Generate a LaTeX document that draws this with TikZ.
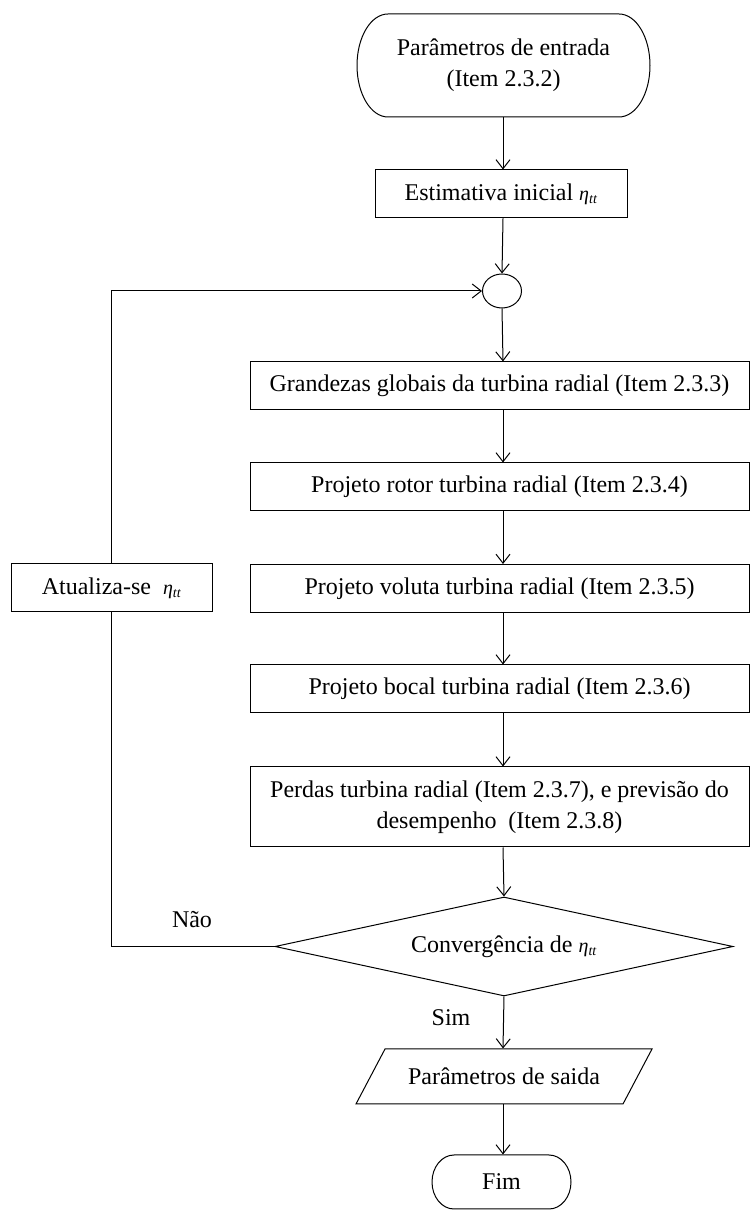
\documentclass[tikz,border=0pt]{standalone}
\usepackage{fontspec}
\setmainfont{Liberation Serif}
\usetikzlibrary{arrows.meta,shapes.geometric,calc}
\newcommand{\etatt}{{\fontsize{20}{20}\selectfont\itshape η\textsubscript{tt}}}
\begin{document}
\begin{tikzpicture}[x=1pt,y=1pt, line width=1pt,
  lbl/.style={font=\fontsize{24}{31}\selectfont, align=center, inner sep=0pt},
  box/.style={lbl, draw, rectangle, minimum height=48pt},
  arr/.style={-{Straight Barb[length=9pt,width=14pt]}}]
\useasboundingbox (0,0) rectangle (750,1211);
\coordinate (ax) at (503,0);

% start terminal
\node[lbl, minimum width=293pt, minimum height=103pt] (start) at (503.5,1145.5) {Parâmetros de entrada\\(Item 2.3.2)};
\draw (388,1197) -- (619,1197) arc[start angle=90,end angle=-90,x radius=31,y radius=51.5]
  -- (388,1094) arc[start angle=270,end angle=90,x radius=31,y radius=51.5] -- cycle;

\node[box, minimum width=252pt] (est) at (501,1017) {Estimativa inicial \etatt};
\node[draw, ellipse, minimum width=39pt, minimum height=34pt, inner sep=0pt] (jn) at (502,920) {};

\node[box, minimum width=499pt] (g) at (499.5,825) {Grandezas globais da turbina radial (Item 2.3.3)};
\node[box, minimum width=499pt] (r) at (499.5,724) {Projeto rotor turbina radial (Item 2.3.4)};
\node[box, minimum width=499pt] (v) at (499.5,622.5) {Projeto voluta turbina radial (Item 2.3.5)};
\node[box, minimum width=499pt] (b) at (499.5,522) {Projeto bocal turbina radial (Item 2.3.6)};
\node[box, minimum width=499pt, minimum height=80pt] (p) at (499.5,404) {Perdas turbina radial (Item 2.3.7), e previsão do\\desempenho~ (Item 2.3.8)};

\node[draw, diamond, minimum width=458pt, minimum height=99pt, inner sep=0pt] (conv) at (504,264.5) {};
\node[lbl] (convt) at (conv) {Convergência de \etatt};

\node[box, minimum width=201pt] (upd) at (111.5,623) {Atualiza-se~ \etatt};

% output parallelogram
\node[lbl, minimum width=267pt, minimum height=55pt] (out) at (504,134.5) {Parâmetros de saida};
\draw (385,162) -- (652,162) -- (623,107) -- (356,107) -- cycle;

% end terminal
\node[lbl, minimum width=139pt, minimum height=54pt] (fim) at (501.5,29) {Fim};
\draw (454,56) -- (549,56) arc[start angle=90,end angle=-90,x radius=22,y radius=27]
  -- (454,2) arc[start angle=270,end angle=90,x radius=22,y radius=27] -- cycle;

\node[lbl] (nao) at (192,291) {Não};
\node[lbl] (sim) at (451,193) {Sim};

\draw[arr] (start.south -| ax) -- (est.north -| ax);
\draw[arr] (est.south -| ax) -- (jn.north);
\draw[arr] (jn.south) -- (g.north -| ax);
\draw[arr] (g.south -| ax) -- (r.north -| ax);
\draw[arr] (r.south -| ax) -- (v.north -| ax);
\draw[arr] (v.south -| ax) -- (b.north -| ax);
\draw[arr] (b.south -| ax) -- (p.north -| ax);
\draw[arr] (p.south -| ax) -- (conv.north);
\draw[arr] (conv.south) -- (out.north -| ax);
\draw[arr] (out.south -| ax) -- (fim.north -| ax);
\draw (conv.west) -| (upd.south);
\draw[arr] (upd.north) |- (jn.west);
\end{tikzpicture}
\end{document}
